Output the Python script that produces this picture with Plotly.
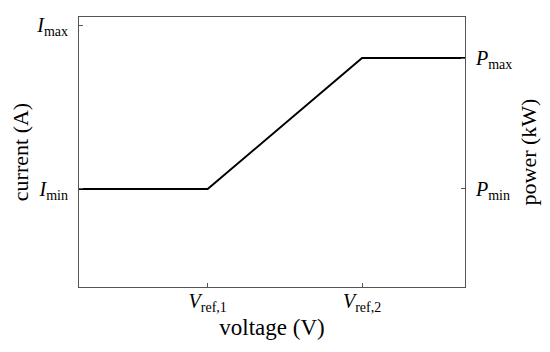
import plotly.graph_objects as go

# data
voltage = [0.0, 1.0, 2.2, 3.0]
power = [3.63, 3.63, 8.48, 8.48]
x_tick_vals = [1.0, 2.2]
x_tick_text = ["<i>V</i><sub>ref,1</sub>", "<i>V</i><sub>ref,2</sub>"]
i_tick_vals = [3.63, 9.7]
i_tick_text = ["<i>I</i><sub>min</sub>", "<i>I</i><sub>max</sub>"]
p_tick_vals = [3.63, 8.48]
p_tick_text = ["<i>P</i><sub>min</sub>", "<i>P</i><sub>max</sub>"]

font = "Liberation Serif"
axcol = "#555555"

fig = go.Figure()
fig.add_trace(go.Scatter(x=voltage, y=power, mode="lines",
                         line=dict(color="black", width=2), yaxis="y2",
                         showlegend=False))
# invisible trace on left axis to activate it
fig.add_trace(go.Scatter(x=[0], y=[0], mode="markers", marker=dict(opacity=0),
                         showlegend=False, hoverinfo="skip"))

fig.update_layout(
    width=542, height=344,
    margin=dict(l=71, r=85, t=9, b=65),
    plot_bgcolor="white", paper_bgcolor="white",
    font=dict(family=font, size=16, color="black"),
    xaxis=dict(range=[0, 3], tickvals=x_tick_vals, ticktext=x_tick_text,
               showline=True, linecolor=axcol, linewidth=1, mirror=True,
               ticks="inside", ticklen=4, tickcolor=axcol, showgrid=False,
               zeroline=False, automargin=False, ticklabelstandoff=-4,
               title=dict(text="voltage (V)", font=dict(size=23), standoff=0),
               tickfont=dict(size=20)),
    yaxis=dict(range=[0, 10], tickvals=i_tick_vals, ticktext=i_tick_text,
               showline=True, linecolor=axcol, linewidth=1,
               ticks="inside", ticklen=4, tickcolor=axcol, showgrid=False,
               zeroline=False, ticklabelstandoff=6, automargin=False,
               title=dict(text="current (A)", font=dict(size=22), standoff=3),
               tickfont=dict(size=20)),
    yaxis2=dict(range=[0, 10], tickvals=p_tick_vals, ticktext=p_tick_text,
                overlaying="y", side="right",
                showline=True, linecolor=axcol, linewidth=1,
                ticks="inside", ticklen=4, tickcolor=axcol, showgrid=False,
                zeroline=False, ticklabelstandoff=6, automargin=False,
                title=dict(text="power (kW)", font=dict(size=22), standoff=9),
                tickfont=dict(size=20)),
)

fig.write_html("out.html")
